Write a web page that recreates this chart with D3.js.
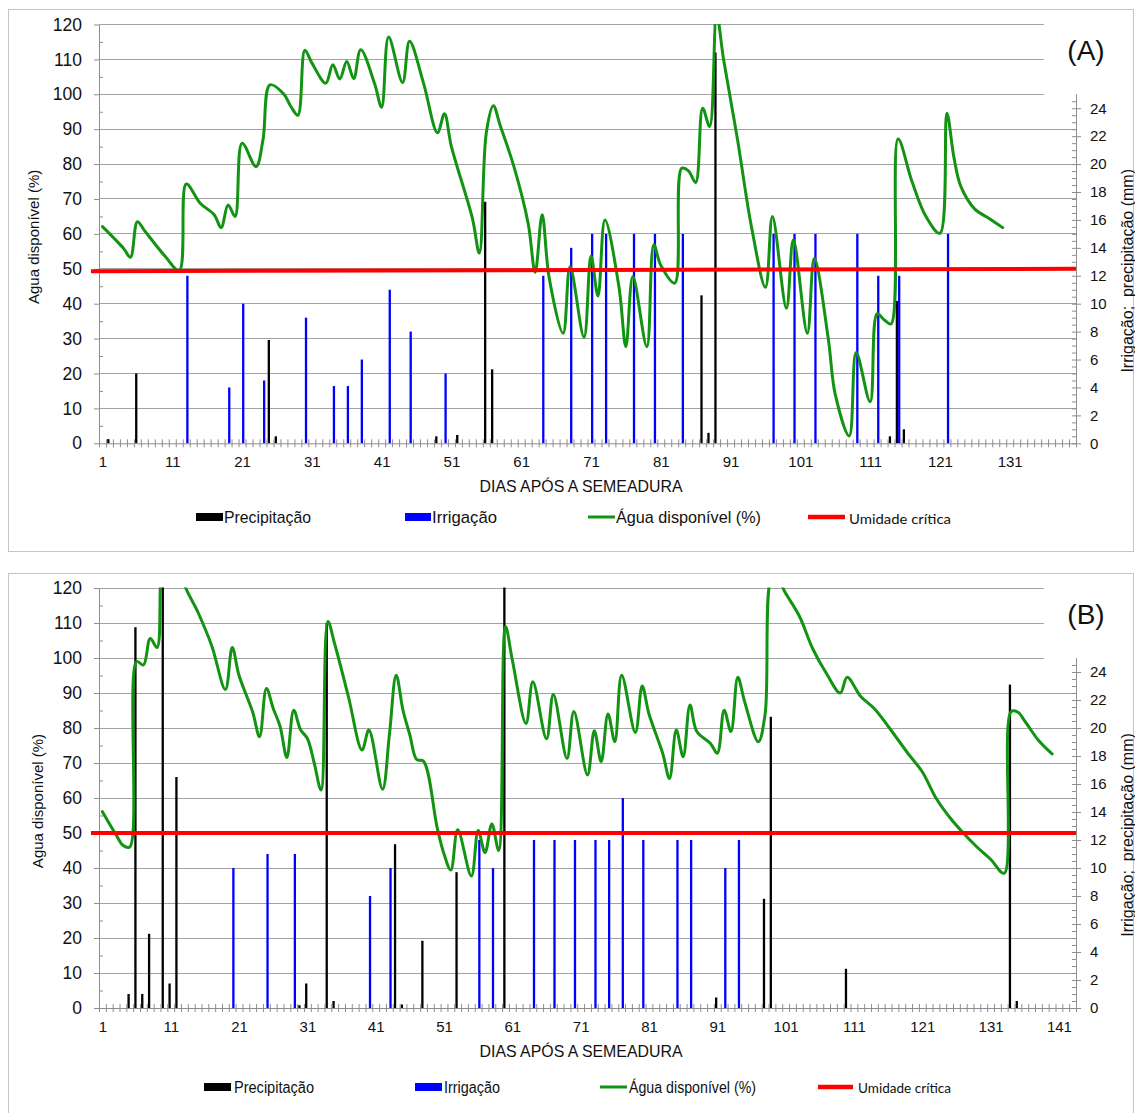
<!DOCTYPE html>
<html><head><meta charset="utf-8">
<script src="https://cdn.jsdelivr.net/npm/d3@7"></script>
<style>html,body{margin:0;padding:0;background:#fff;} svg{display:block;}</style>
</head><body>
<svg id="chart" width="1135" height="1113"></svg>
<script>
// ================= DATA =================
const leftTicks = [0,10,20,30,40,50,60,70,80,90,100,110,120];
const rightTicks = [0,2,4,6,8,10,12,14,16,18,20,22,24];
const legendLabels = ["Precipitação","Irrigação","Água disponível (%)","Umidade crítica"];

// ---- Panel A ----
const nDaysA = 140;
const xTickLabelsA = ["1","11","21","31","41","51","61","71","81","91","101","111","121","131"];
const precipDaysA = [2,6,25,26,49,52,56,57,87,88,89,114,115,116];
const precipMmA   = [0.3,5,7.4,0.5,0.5,0.6,17.3,5.3,10.6,0.75,28,0.5,10.2,1];
const irrigDaysA = [13,19,21,24,30,34,36,38,42,45,50,64,68,71,73,77,80,84,97,100,103,109,112,115,122];
const irrigMmA   = [12,4,10,4.5,9,4.1,4.1,6,11,8,5,12,14,15,15,15,15,15,15,15,15,15,12,12,15];
const waterDaysA = [1,4,5,6,7,10,12,13,15,17,18,19,20,21,23,24,25,27,28,29,30,31,33,34,35,36,37,38,40,41,42,44,45,47,49,50,51,54,55,56,57,58,60,62,63,64,65,67,68,70,71,72,73,75,76,77,79,80,81,83,84,85,86,87,88,89,90,92,94,96,97,99,100,102,103,105,106,108,109,111,112,113,114,115,117,119,121,122,123,124,126,128,130];
const waterPctA  = [62.1,55.9,53.3,63.5,61,53.5,49.5,74.3,68.8,65.5,61.8,68.3,65,86,79.3,87,102.7,100,96.5,94,112.6,109,103.2,108.5,104.4,109.4,104.5,112.8,103,96.3,116.4,103.4,115.2,103.2,89,94.4,85,64.5,54.5,89,96.7,91,79,63,49,65.5,47.5,31.5,50.6,30.4,53.7,42.2,64,44.9,27.7,47.8,27.7,56.9,51,45.9,78.8,78,74.7,96,90.8,123,110,87,62,44.7,65,38.7,58.3,31.5,53,30,14,2.1,26,11.9,37.1,35.4,34.2,87.2,75,65,60.2,94.6,82,73.6,67.1,64.5,61.8];
const criticalA = [49.3, 50];

// ---- Panel B ----
const nDaysB = 143;
const xTickLabelsB = ["1","11","21","31","41","51","61","71","81","91","101","111","121","131","141"];
const precipDaysB = [5,6,7,8,10,11,12,30,31,34,35,44,45,48,53,60,91,98,99,110,134,135];
const precipMmB   = [1,27.2,1,5.3,32,1.75,16.5,0.2,1.75,27.5,0.5,11.7,0.25,4.8,9.7,32,0.75,7.8,20.8,2.8,23.1,0.5];
const irrigDaysB = [20,25,29,40,43,56,58,64,67,70,73,75,77,80,85,87,92,94];
const irrigMmB   = [10,11,11,8,10,12,10,12,12,12,12,12,15,12,12,12,10,12];
const waterDaysB = [1,3,4,5,6,7,8,9,10,11,12,13,15,17,19,20,21,23,24,25,26,27,28,29,30,31,32,33,34,35,37,39,40,42,43,44,45,46,47,48,50,51,52,53,55,56,57,58,59,60,61,63,64,66,67,69,70,72,73,74,75,76,77,79,80,81,83,84,85,86,87,88,90,91,92,93,94,95,97,98,99,100,101,103,105,107,109,110,112,114,116,119,121,123,125,127,129,131,133,134,135,136,138,140];
const waterPctB  = [56.1,49.5,46.5,46,99,98,105.6,103,130,131,130,121,113,103.5,91,103,95,84.5,77.5,91.3,85.6,80.5,71.6,85.1,79.5,77,70,62.3,110.4,104,89,73.7,79.4,62.5,78,95.1,85,78,71,70.5,51.5,44,39.4,50.9,37.7,50.7,44.4,52.6,45,109,99.4,81.3,93.2,76.9,89.6,71.3,84.7,66.6,79.2,70.4,84,76.1,95.1,78.7,92,84,72.8,65.6,79.4,71.8,86.6,79,75.6,72.8,85.1,79,94.5,87.5,76.1,84,123,122,118.5,112,102.5,95.5,90,94.5,89,85.5,80.5,72.5,67.5,60,54.5,50,46,42.5,38.5,84.7,84.5,82,76.5,72.6];
const criticalB = [50, 50];

// ================= DRAWING =================
const svg = d3.select("#chart");
const FONT = "'Liberation Sans', Arial, sans-serif";
const COLORS = {precip:"#000000", irrig:"#0000ff", water:"#129312", crit:"#ff0000"};
const crisp = v => Math.round(v - 0.5) + 0.5;

function drawPanel(p, idx) {
  const g = svg.append("g");
  const plotL = 99, plotR = 1076;
  const x = d3.scaleLinear().domain([0.5, p.nDays + 0.5]).range([plotL, plotR]);
  const yL = d3.scaleLinear().domain([0,120]).range([p.y0, p.y120]);
  const yR = d3.scaleLinear().domain([0,30]).range([p.y0, p.y120]);

  // panel border
  g.append("rect").attr("x",8.5).attr("y",p.borderTop+0.5).attr("width",1125).attr("height",p.borderH)
    .attr("fill","none").attr("stroke","#c4c4c4").attr("stroke-width",1);

  // gridlines
  g.append("g").selectAll("line").data(leftTicks.slice(1)).join("line")
    .attr("x1",plotL).attr("x2",plotR)
    .attr("y1",d=>crisp(yL(d))).attr("y2",d=>crisp(yL(d)))
    .attr("stroke","#a3a3a3").attr("stroke-width",1);

  // white box behind panel label (covers top-right gridlines)
  g.append("rect").attr("x",1044).attr("y",yL(120)-10).attr("width",89)
    .attr("height",yR(25)+1.5-(yL(120)-10)).attr("fill","#fff");

  const clipId = "clip"+idx;
  svg.append("clipPath").attr("id",clipId).append("rect")
    .attr("x",plotL-12).attr("y",yL(120)-0.5).attr("width",plotR-plotL+24).attr("height",p.y0-yL(120)+10);

  const marks = g.append("g").attr("clip-path",`url(#${clipId})`);
  // precipitation bars
  marks.append("g").selectAll("rect").data(d3.zip(p.precipDays,p.precipMm)).join("rect")
    .attr("x",d=>x(d[0])-2.3).attr("width",2.3)
    .attr("y",d=>yR(d[1])).attr("height",d=>p.y0-yR(d[1]))
    .attr("fill",COLORS.precip);
  // irrigation bars
  marks.append("g").selectAll("rect").data(d3.zip(p.irrigDays,p.irrigMm)).join("rect")
    .attr("x",d=>x(d[0])).attr("width",2.3)
    .attr("y",d=>yR(d[1])).attr("height",d=>p.y0-yR(d[1]))
    .attr("fill",COLORS.irrig);

  // axes
  const axisColor = "#8e8e8e";
  const styleAxis = sel => {
    sel.selectAll("path.domain").attr("stroke",axisColor);
    sel.selectAll(".tick line").attr("stroke",axisColor);
    sel.selectAll("text").attr("fill","#111").style("font-family",FONT);
  };
  // bottom axis: tick marks at every category boundary
  const bx = g.append("g").attr("transform",`translate(0,${p.y0})`)
    .call(d3.axisBottom(x).tickValues(d3.range(0, p.nDays+1).map(v=>v+0.5)).tickSize(4).tickSizeOuter(0).tickFormat(""));
  bx.selectAll(".tick line").attr("y1",-4);
  bx.call(styleAxis);
  const labelDays = p.xLabels.map(Number);
  const bxl = g.append("g").attr("transform",`translate(0,${p.y0})`)
    .call(d3.axisBottom(x).tickValues(labelDays).tickSize(0).tickPadding(13).tickFormat((d,i)=>p.xLabels[i]));
  bxl.select(".domain").remove();
  bxl.call(styleAxis);
  bxl.selectAll("text").style("font-size","15px");

  // left axis
  const lx = g.append("g").attr("transform",`translate(${plotL},0)`)
    .call(d3.axisLeft(yL).tickValues(leftTicks).tickSize(5).tickSizeOuter(0).tickPadding(12));
  lx.call(styleAxis);
  lx.selectAll("text").style("font-size","17.5px");
  const lxm = g.append("g").attr("transform",`translate(${plotL},0)`)
    .call(d3.axisLeft(yL).tickValues(d3.range(5,120,10)).tickSize(-4).tickFormat(""));
  lxm.select(".domain").remove();
  lxm.call(styleAxis);

  // right axis
  const rx = g.append("g").attr("transform",`translate(${plotR},0)`)
    .call(d3.axisRight(yR).tickValues(rightTicks).tickSize(5).tickSizeOuter(0).tickPadding(9));
  rx.select(".domain").remove();
  rx.selectAll(".tick line").attr("x1",-4);
  rx.call(styleAxis);
  rx.selectAll("text").style("font-size","15px");
  const rxm = g.append("g").attr("transform",`translate(${plotR},0)`)
    .call(d3.axisRight(yR).tickValues(d3.range(0.5,25,0.5).filter(v=>v%2!==0)).tickSize(-4).tickFormat(""));
  rxm.select(".domain").remove();
  rxm.call(styleAxis);
  g.append("line").attr("x1",plotR+0.5).attr("x2",plotR+0.5).attr("y1",yR(25)).attr("y2",p.y0)
    .attr("stroke",axisColor);

  // water line
  const line = d3.line().x(d=>x(d[0])).y(d=>yL(d[1])).curve(d3.curveCatmullRom.alpha(0.5));
  marks.append("path").datum(d3.zip(p.waterDays,p.waterPct))
    .attr("d",line).attr("fill","none").attr("stroke",COLORS.water)
    .attr("stroke-width",3).attr("stroke-linejoin","round").attr("stroke-linecap","round");

  // critical humidity line
  g.append("line")
    .attr("x1",x.range()[0]-8).attr("x2",x.range()[1])
    .attr("y1",yL(p.critical[0])).attr("y2",yL(p.critical[1]))
    .attr("stroke",COLORS.crit).attr("stroke-width",4);

  // axis titles
  g.append("text").attr("transform",`translate(${p.leftTitleX},${(yL(0)+yL(120))/2+3}) rotate(-90)`)
    .attr("text-anchor","middle").attr("dominant-baseline","central")
    .style("font-family",FONT).style("font-size","15px").attr("fill","#111")
    .text("Agua disponível (%)");
  g.append("text").attr("transform",`translate(1127,${(yR(0)+yR(25))/2+2}) rotate(-90)`)
    .attr("text-anchor","middle").attr("dominant-baseline","central")
    .style("font-family",FONT).style("font-size","16px").style("white-space","pre").attr("fill","#111")
    .text("Irrigação;  precipitação (mm)");
  g.append("text").attr("x",581).attr("y",p.xTitleY).attr("text-anchor","middle").attr("dominant-baseline","central")
    .attr("textLength",203).attr("lengthAdjust","spacingAndGlyphs")
    .style("font-family",FONT).style("font-size","16.5px").attr("fill","#111")
    .text("DIAS APÓS A SEMEADURA");

  // panel label
  g.append("text").attr("x",1086).attr("y",p.labelY).attr("text-anchor","middle").attr("dominant-baseline","central")
    .style("font-family",FONT).style("font-size","28px").attr("fill","#111").text(p.label);

  // legend
  const lg = g.append("g");
  const kinds = ["rect","rect","line","line"];
  const cols = [COLORS.precip, COLORS.irrig, COLORS.water, COLORS.crit];
  legendLabels.forEach((lab,i)=>{
    const L = p.legend[i];
    if (kinds[i]==="rect") {
      lg.append("rect").attr("x",L[0]).attr("y",p.legendY-4).attr("width",L[1]-L[0]).attr("height",8).attr("fill",cols[i]);
    } else {
      lg.append("line").attr("x1",L[0]).attr("x2",L[1]).attr("y1",p.legendY).attr("y2",p.legendY)
        .attr("stroke",cols[i]).attr("stroke-width",i===3?4.5:3);
    }
    lg.append("text").attr("x",L[2]).attr("y",p.legendY+ (i===3?1:0)).attr("dominant-baseline","central")
      .attr("textLength",L[3]).attr("lengthAdjust","spacingAndGlyphs")
      .style("font-family", i===3 ? "Lato, 'Open Sans', sans-serif" : FONT)
      .style("font-size", i===3 ? p.legendFont2 : p.legendFont)
      .attr("fill","#111").text(lab);
  });
}

drawPanel({
  nDays:nDaysA, xLabels:xTickLabelsA,
  precipDays:precipDaysA, precipMm:precipMmA, irrigDays:irrigDaysA, irrigMm:irrigMmA,
  waterDays:waterDaysA, waterPct:waterPctA, critical:criticalA,
  borderTop:9, borderH:542, y0:443.3, y120:24.5, leftTitleX:33, xTitleY:486, labelY:50,
  label:"(A)", legendY:517, legendFont:"17px", legendFont2:"14px",
  legend:[[196,223,224,87],[405,431,432,65],[588,615,616,145],[808,845,849,102]]
},0);

drawPanel({
  nDays:nDaysB, xLabels:xTickLabelsB,
  precipDays:precipDaysB, precipMm:precipMmB, irrigDays:irrigDaysB, irrigMm:irrigMmB,
  waterDays:waterDaysB, waterPct:waterPctB, critical:criticalB,
  borderTop:573, borderH:560, y0:1008, y120:588, leftTitleX:37, xTitleY:1051, labelY:614,
  label:"(B)", legendY:1087, legendFont:"16px", legendFont2:"13px",
  legend:[[204,231,234,80],[415,442,444,56],[600,627,629,127],[818,853,858,93]]
},1);
</script>
</body></html>
